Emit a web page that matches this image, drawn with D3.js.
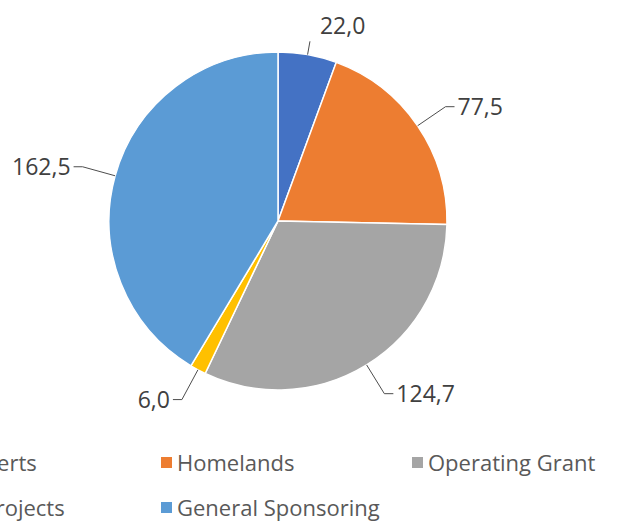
<!DOCTYPE html>
<html lang="en">
<head>
    <meta charset="UTF-8">
    <title>Pie chart</title>
    <script src="https://d3js.org/d3.v7.min.js"></script>
    <style>
        body { margin: 0; background: #fff; }
        svg { display: block; font-family: "Open Sans", sans-serif; }
    </style>
</head>
<body>
    <svg></svg>
    <script>
        const categories = ["Concerts", "Homelands", "Operating Grant", "Art Projects", "General Sponsoring"];
        const values = [22.0, 77.5, 124.7, 6.0, 162.5];
        const valueLabels = ["22,0", "77,5", "124,7", "6,0", "162,5"];
        const colors = ["#4472C4", "#ED7D31", "#A5A5A5", "#FFC000", "#5B9BD5"];

        const width = 622;
        const height = 522;
        const radius = 169;
        const cx = 278, cy = 221;

        const svg = d3.select("svg")
            .attr("width", width)
            .attr("height", height);

        const g = svg.append("g")
            .attr("transform", `translate(${cx}, ${cy})`);

        const data = values.map((v, i) => ({ name: categories[i], value: v, label: valueLabels[i], color: colors[i] }));

        const pie = d3.pie()
            .sort(null)
            .value(d => d.value);

        const arc = d3.arc()
            .innerRadius(0)
            .outerRadius(radius);

        const arcs = pie(data);

        g.selectAll("path.slice")
            .data(arcs)
            .enter()
            .append("path")
            .attr("class", "slice")
            .attr("d", arc)
            .attr("fill", d => d.data.color)
            .attr("stroke", "#fff")
            .attr("stroke-width", 1.5);

        // leader lines + value labels, placed outside like Excel does
        arcs.forEach(d => {
            const mid = (d.startAngle + d.endAngle) / 2;
            const s = Math.sin(mid), c = Math.cos(mid);
            const p0 = [radius * s, -radius * c];
            const top = c > 0.9;
            const k = top ? 1.08 : 1.2;
            const p1 = [radius * k * s, -radius * k * c];
            const dir = s >= 0 ? 1 : -1;
            const pts = top ? [p0, p1] : [p0, p1, [p1[0] + dir * 9, p1[1]]];

            g.append("path")
                .attr("d", d3.line()(pts))
                .attr("fill", "none")
                .attr("stroke", "#4d4d4d")
                .attr("stroke-width", 1);

            const t = g.append("text")
                .text(d.data.label)
                .attr("fill", "#404040")
                .attr("font-size", 23);
            if (top) {
                t.attr("x", p1[0] + 10).attr("y", p1[1] - 7).attr("text-anchor", "start");
            } else {
                const end = pts[2];
                t.attr("x", end[0] + dir * 3)
                    .attr("y", end[1])
                    .attr("dy", "0.35em")
                    .attr("text-anchor", dir > 0 ? "start" : "end");
            }
        });

        // legend: 3 columns, 2 rows (first column is cut by the left edge)
        const legendCols = [-54, 177, 428];
        const legendRows = [463, 508];
        const legend = svg.append("g");
        data.forEach((d, i) => {
            const x = legendCols[i % 3];
            const y = legendRows[Math.floor(i / 3)];
            legend.append("rect")
                .attr("x", x - 16)
                .attr("y", y - 6)
                .attr("width", 11)
                .attr("height", 11)
                .attr("fill", d.color);
            legend.append("text")
                .attr("x", x)
                .attr("y", y)
                .attr("dy", "0.35em")
                .attr("fill", "#595959")
                .attr("font-size", 22)
                .text(d.name);
        });
    </script>
</body>
</html>
